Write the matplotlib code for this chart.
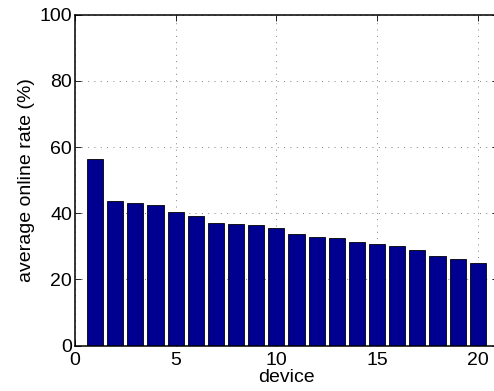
import numpy as np
import matplotlib
matplotlib.use("Agg")
import matplotlib.pyplot as plt

plt.rcParams['font.family'] = ['Liberation Sans', 'DejaVu Sans']

# average online rate per device, sorted descending
devices = np.arange(1, 21)
online_rate = [56.3, 43.8, 43.0, 42.6, 40.3, 39.2, 37.0, 36.7, 36.5, 35.6,
               33.7, 32.9, 32.6, 31.4, 30.6, 30.0, 28.8, 27.0, 26.2, 25.0]
x_ticks = [0, 5, 10, 15, 20]
y_ticks = [0, 20, 40, 60, 80, 100]

fig = plt.figure(figsize=(4.94, 3.91), dpi=100)
ax = fig.add_axes([0.1518, 0.1159, 0.8562, 0.8465])

ax.bar(devices, online_rate, width=0.8, color='#000090',
       edgecolor='black', linewidth=0.6, zorder=2)

ax.set_xlim(0, 21)
ax.set_ylim(0, 100)
ax.set_xticks(x_ticks)
ax.set_yticks(y_ticks)
ax.tick_params(direction='in', top=True, right=True, length=4,
               width=0.6, labelsize=14)
ax.tick_params(axis='x', pad=4.5)
ax.tick_params(axis='y', pad=2)
ax.grid(True, linestyle=(0, (1, 5.5)), color='#808080', linewidth=0.7, zorder=0)
for s in ax.spines.values():
    s.set_linewidth(1.1)

ax.set_xlabel('device', fontsize=14, labelpad=0)
ax.set_ylabel('average online rate (%)', fontsize=14, labelpad=3)

fig.savefig('out.png', dpi=100)
